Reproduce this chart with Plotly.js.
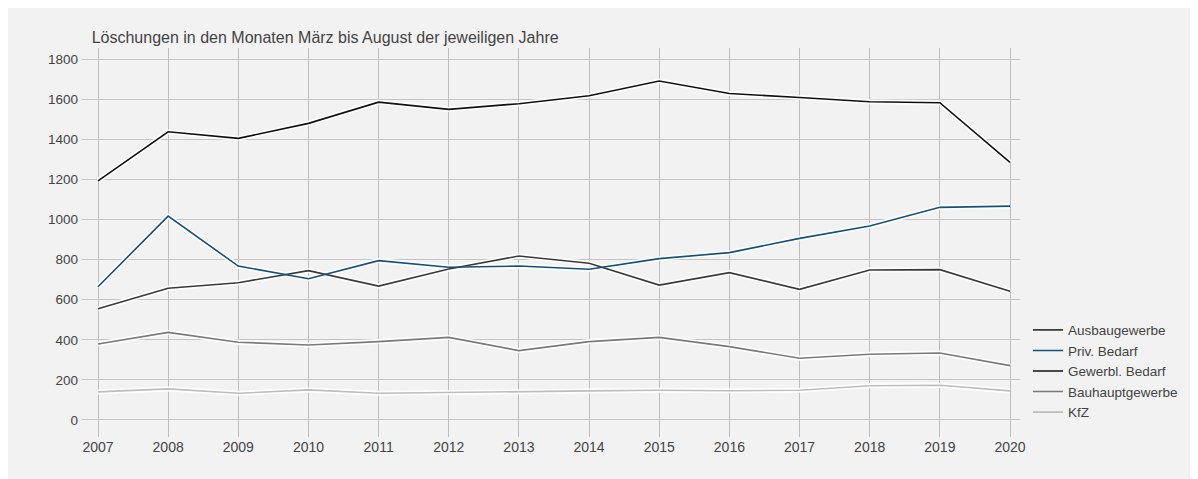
<!DOCTYPE html>
<html>
<head>
<meta charset="utf-8">
<script src="https://cdn.plot.ly/plotly-3.0.1.min.js"></script>
<style>
  html, body { margin: 0; padding: 0; background: #ffffff; }
  body { margin: 8px; }
  #chart { width: 1182px; height: 471px; background: #f2f2f2; }
</style>
</head>
<body>
<div id="chart"></div>
<script>
const years = [2007, 2008, 2009, 2010, 2011, 2012, 2013, 2014, 2015, 2016, 2017, 2018, 2019, 2020];

const ausbaugewerbe   = [555, 657, 685, 745, 668, 753, 818, 782, 673, 735, 652, 748, 750, 642];
const privBedarf      = [665, 1017, 768, 705, 795, 762, 768, 752, 805, 835, 906, 968, 1061, 1067];
const gewerblBedarf   = [1193, 1438, 1405, 1480, 1586, 1550, 1578, 1618, 1691, 1629, 1609, 1588, 1583, 1285];
const bauhauptgewerbe = [379, 437, 388, 374, 391, 412, 346, 391, 412, 366, 308, 328, 334, 271];
const kfz             = [140, 155, 133, 150, 133, 138, 140, 145, 148, 146, 148, 171, 173, 145];

const yTicks = [0, 200, 400, 600, 800, 1000, 1200, 1400, 1600, 1800];

const seriesNames  = ['Ausbaugewerbe', 'Priv. Bedarf', 'Gewerbl. Bedarf', 'Bauhauptgewerbe', 'KfZ'];
const seriesValues = [ausbaugewerbe, privBedarf, gewerblBedarf, bauhauptgewerbe, kfz];
const seriesColors = ['#3a3a3a', '#13507f', '#111111', '#7a7a7a', '#bdbdbd'];

const traces = [];
// white glow underneath
seriesValues.forEach((vals, i) => {
  traces.push({
    x: years, y: vals, type: 'scatter', mode: 'lines',
    line: { color: 'rgba(255,255,255,0.95)', width: 5 },
    showlegend: false, hoverinfo: 'skip'
  });
});
seriesValues.forEach((vals, i) => {
  traces.push({
    x: years, y: vals, type: 'scatter', mode: 'lines',
    name: seriesNames[i],
    line: { color: seriesColors[i], width: 1.6 }
  });
});

const layout = {
  width: 1182, height: 471,
  paper_bgcolor: '#f2f2f2',
  plot_bgcolor: '#f2f2f2',
  font: { family: 'Liberation Sans, Arial, sans-serif', color: '#444', size: 14 },
  margin: { l: 74, r: 170, t: 40, b: 42, autoexpand: false },
  title: {
    text: 'Löschungen in den Monaten März bis August der jeweiligen Jahre',
    font: { size: 16, color: '#444' },
    x: 0.0708, xref: 'container', xanchor: 'left',
    y: 0.9384, yref: 'container', yanchor: 'middle'
  },
  xaxis: {
    range: [2006.772, 2020.1425],
    tickvals: years,
    ticktext: years.map(String),
    showgrid: true, gridcolor: '#bdbdbd', gridwidth: 1,
    zeroline: false, showline: false, ticks: '',
    tickfont: { size: 14, color: '#444' },
    automargin: false
  },
  yaxis: {
    range: [-85, 1856],
    tickvals: yTicks,
    ticktext: yTicks.map(String),
    showgrid: true, gridcolor: '#c4c4c4', gridwidth: 1,
    zeroline: false, showline: false, ticks: '',
    ticklabelstandoff: 3,
    tickfont: { size: 13.5, color: '#444' },
    automargin: false
  },
  legend: {
    xref: 'container', yref: 'container',
    x: 0.8629, xanchor: 'left',
    y: 0.229, yanchor: 'middle',
    font: { size: 13.5, color: '#444' },
    bgcolor: 'rgba(0,0,0,0)'
  },
  showlegend: true
};

Plotly.newPlot('chart', traces, layout, { displayModeBar: false, staticPlot: true });
</script>
</body>
</html>
